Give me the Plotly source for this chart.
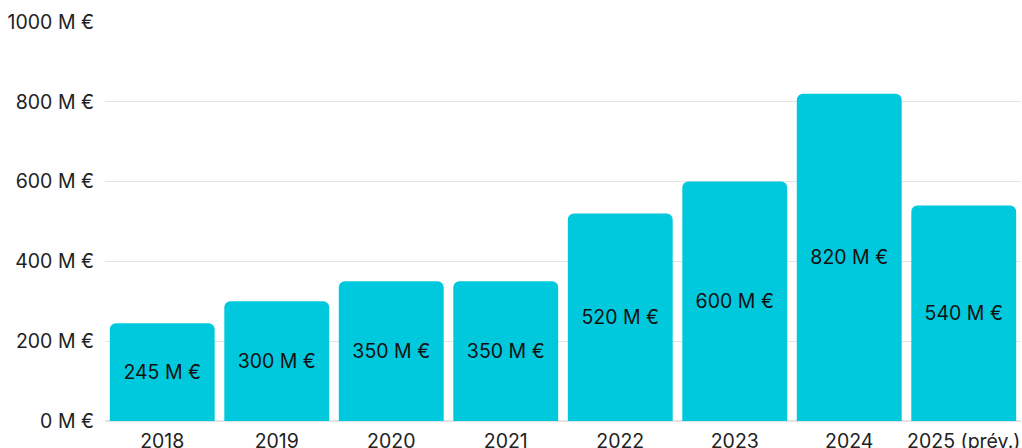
import plotly.graph_objects as go

years = ["2018", "2019", "2020", "2021", "2022", "2023", "2024", "2025 (prév.)"]
values = [245, 300, 350, 350, 520, 600, 820, 540]
labels = [f"{v} M €" for v in values]
ytick_vals = [0, 200, 400, 600, 800, 1000]
ytick_text = [f"{v} M €" for v in ytick_vals]

FS = 19.5

fig = go.Figure(go.Bar(
    x=years, y=values, text=labels, textposition="inside",
    insidetextanchor="middle",
    textfont=dict(family="Inter", size=FS, color="#111111"),
    marker=dict(color="#00c9dd", line=dict(width=0), cornerradius=6),
    hoverinfo="skip",
))
fig.update_layout(
    width=1022, height=448,
    margin=dict(l=105, r=1, t=22, b=27),
    paper_bgcolor="white", plot_bgcolor="white",
    bargap=0.084,
    showlegend=False,
    font=dict(family="Inter", size=FS, color="#222222"),
    uniformtext=dict(mode="show", minsize=FS),
)
fig.update_xaxes(showgrid=False, showline=False, ticks="", ticklabelstandoff=6,
                 automargin=False, tickfont=dict(size=FS, color="#222222"))
fig.update_yaxes(range=[0, 1000], tickvals=ytick_vals, ticktext=ytick_text,
                 showgrid=True, gridcolor="#e3e3e3", gridwidth=1, zeroline=True,
                 zerolinecolor="#e3e3e3", ticks="", ticklabelstandoff=10,
                 automargin=False, tickfont=dict(size=FS, color="#222222"))
fig.write_html("out.html")
